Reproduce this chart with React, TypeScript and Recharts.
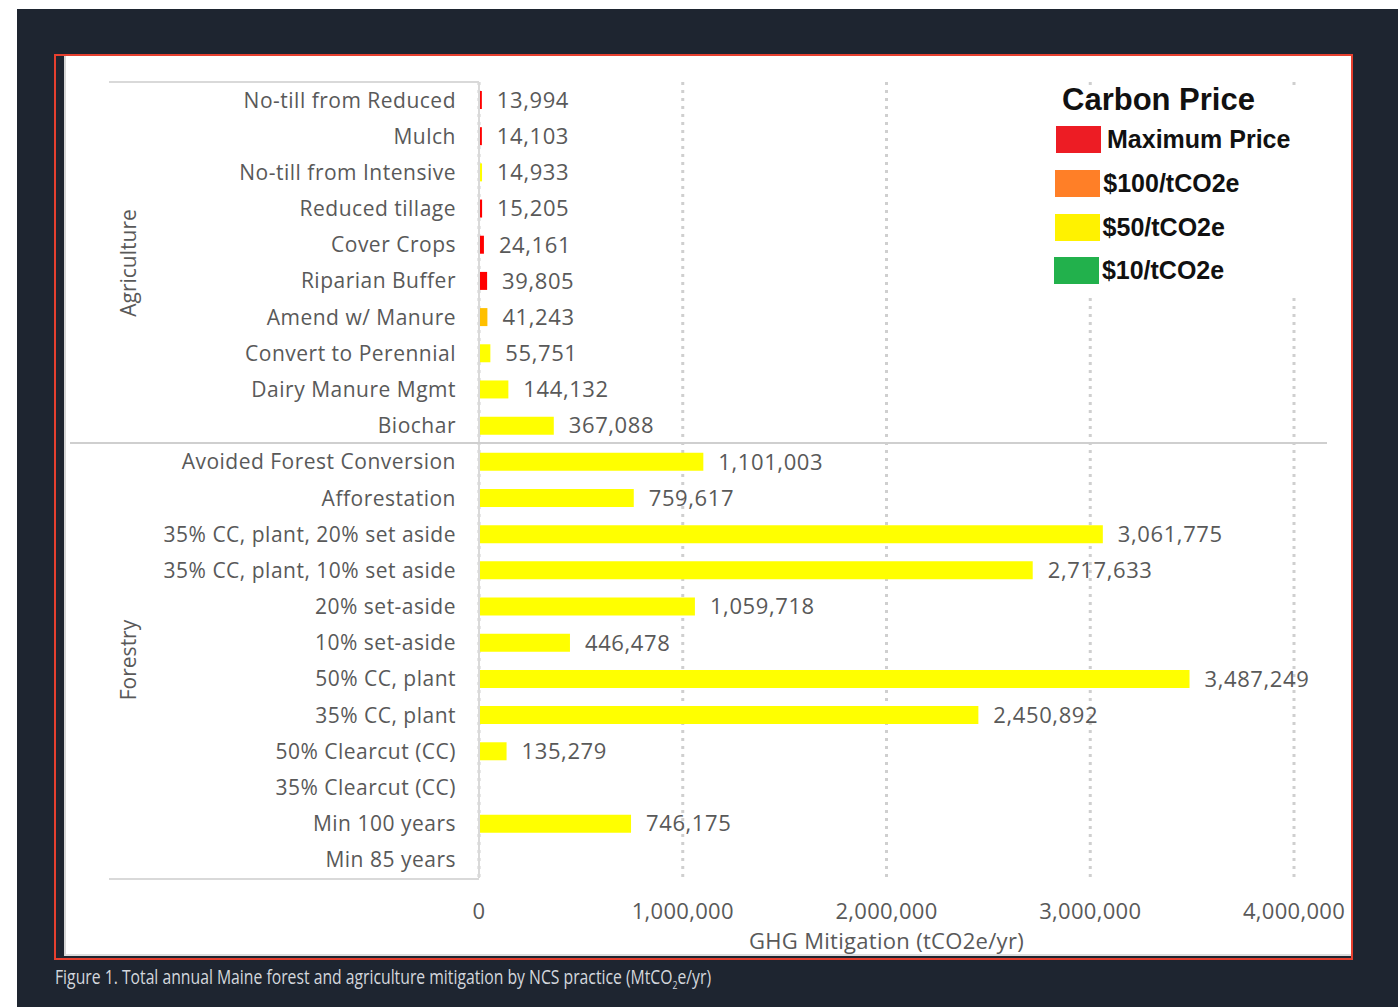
import React from "react";
import { BarChart, Bar, XAxis, YAxis, CartesianGrid, Cell, LabelList, Legend } from "recharts";

// practices, top to bottom
const categories = [
  "No-till from Reduced",
  "Mulch",
  "No-till from Intensive",
  "Reduced tillage",
  "Cover Crops",
  "Riparian Buffer",
  "Amend w/ Manure",
  "Convert to Perennial",
  "Dairy Manure Mgmt",
  "Biochar",
  "Avoided Forest Conversion",
  "Afforestation",
  "35% CC, plant, 20% set aside",
  "35% CC, plant, 10% set aside",
  "20% set-aside",
  "10% set-aside",
  "50% CC, plant",
  "35% CC, plant",
  "50% Clearcut (CC)",
  "35% Clearcut (CC)",
  "Min 100 years",
  "Min 85 years",
];

const mitigation = [
  13994, 14103, 14933, 15205, 24161, 39805, 41243, 55751, 144132, 367088,
  1101003, 759617, 3061775, 2717633, 1059718, 446478, 3487249, 2450892, 135279, null, 746175, null,
];

const priceLevel = [
  "max", "max", "50", "max", "max", "max", "100", "50", "50", "50",
  "50", "50", "50", "50", "50", "50", "50", "50", "50", "50", "50", "50",
];

const xTicks = [0, 1000000, 2000000, 3000000, 4000000];

const groups = ["Agriculture", "Forestry"];

const legendItems = [
  { label: "Maximum Price", color: "#ed1c24" },
  { label: "$100/tCO2e", color: "#ff7f27" },
  { label: "$50/tCO2e", color: "#fff200" },
  { label: "$10/tCO2e", color: "#22b14c" },
];

const BAR_COLORS: Record<string, string> = {
  max: "#ff0000",
  "100": "#ffc000",
  "50": "#ffff00",
};

const data = categories.map((name, i) => ({
  name,
  value: mitigation[i],
  level: priceLevel[i],
}));

const GRAY = "#595959";
const LINE = "#d9d9d9";
const FONT = "'Open Sans', sans-serif";

const fmt = (v: any) => (v == null ? "" : Number(v).toLocaleString("en-US"));

function CarbonLegend() {
  return (
    <div style={{ fontFamily: "'Liberation Sans', Arial, sans-serif", fontWeight: 700, color: "#111" }}>
      <div style={{ fontSize: 31, marginLeft: 12, marginTop: -1, lineHeight: "30px" }}>Carbon Price</div>
      {legendItems.map((it, i) => (
        <div
          key={it.label}
          style={{
            display: "flex",
            alignItems: "center",
            height: 43.7,
            marginTop: i === 0 ? 3 : 0,
            marginLeft: 6 - i * 0.7,
          }}
        >
          <div style={{ width: 45, height: 27, background: it.color, marginRight: i === 0 ? 6 : 3 }} />
          <span style={{ fontSize: 25 }}>{it.label}</span>
        </div>
      ))}
    </div>
  );
}

export default function App() {
  return (
    <div style={{ position: "absolute", left: 0, top: 0, width: 1398, height: 1007, background: "#fff", overflow: "hidden" }}>
      <div style={{ position: "absolute", left: 17, top: 9, width: 1381, height: 998, background: "#1e2530" }} />
      <div
        style={{
          position: "absolute",
          left: 54,
          top: 54,
          width: 1295,
          height: 902,
          border: "2px solid #e6402f",
          background: "#1e2530",
        }}
      />
      <div
        style={{
          position: "absolute",
          left: 64,
          top: 56,
          width: 1287,
          height: 900,
          background: "#fff",
          borderLeft: "2px solid #d6d6d6",
          borderBottom: "2px solid #dedede",
          boxSizing: "border-box",
        }}
      />

      <div style={{ position: "absolute", left: 0, top: 0 }}>
        <BarChart
          width={1398}
          height={1007}
          data={data}
          layout="vertical"
          margin={{ top: 82, right: 104, bottom: 89, left: 0 }}
          barSize={18}
        >
          <CartesianGrid
            horizontal={false}
            stroke="#cfcfcf"
            strokeWidth={3}
            strokeDasharray="3 5"
          />
          <XAxis
            type="number"
            domain={[0, 4000000]}
            ticks={xTicks}
            tickFormatter={fmt}
            axisLine={false}
            tickLine={false}
            tickSize={0}
            tickMargin={25}
            height={40}
            tick={{ fill: GRAY, fontSize: 22, fontFamily: FONT, letterSpacing: 0.3 }}
            label={{
              value: "GHG Mitigation (tCO2e/yr)",
              position: "bottom",
              offset: 15,
              fill: GRAY,
              fontSize: 22,
              fontFamily: FONT,
              letterSpacing: 0.3,
            }}
          />
          <YAxis
            type="category"
            dataKey="name"
            width={479}
            axisLine={{ stroke: LINE, strokeWidth: 2 }}
            tickLine={false}
            tickSize={0}
            tickMargin={23}
            interval={0}
            tick={{ fill: GRAY, fontSize: 21, fontFamily: FONT, letterSpacing: 0.5 }}
          />
          <Legend
            layout="vertical"
            align="center"
            verticalAlign="middle"
            content={() => <CarbonLegend />}
            wrapperStyle={{ left: 1050, top: 86, width: 250, height: 209, background: "#fff" }}
          />
          <Bar dataKey="value" isAnimationActive={false}>
            {data.map((d, i) => (
              <Cell key={i} fill={BAR_COLORS[d.level]} />
            ))}
            <LabelList
              dataKey="value"
              position="right"
              offset={15}
              formatter={fmt}
              fill={GRAY}
              fontSize={22}
              fontFamily={FONT}
              letterSpacing={0.6}
            />
          </Bar>
        </BarChart>
      </div>

      {/* group dividers of the category axis */}
      <div style={{ position: "absolute", left: 109, top: 81, width: 370, height: 2, background: LINE }} />
      <div style={{ position: "absolute", left: 70, top: 442, width: 1257, height: 2, background: "#cfcfcf" }} />
      <div style={{ position: "absolute", left: 109, top: 878, width: 370, height: 2, background: LINE }} />

      {groups.map((g, i) => (
        <div
          key={g}
          style={{
            position: "absolute",
            left: 128,
            top: i === 0 ? 263 : 660,
            transform: "translate(-50%, -50%) rotate(-90deg)",
            fontFamily: FONT,
            fontSize: 21,
            color: GRAY,
            whiteSpace: "nowrap",
          }}
        >
          {g}
        </div>
      ))}

      <div
        style={{
          position: "absolute",
          left: 55,
          top: 963,
          fontFamily: FONT,
          fontSize: 20,
          color: "#d3d7dd",
          whiteSpace: "nowrap",
          transform: "scaleX(0.787)",
          transformOrigin: "left top",
        }}
      >
        Figure 1. Total annual Maine forest and agriculture mitigation by NCS practice (MtCO<sub style={{ fontSize: 11 }}>2</sub>e/yr)
      </div>
    </div>
  );
}
